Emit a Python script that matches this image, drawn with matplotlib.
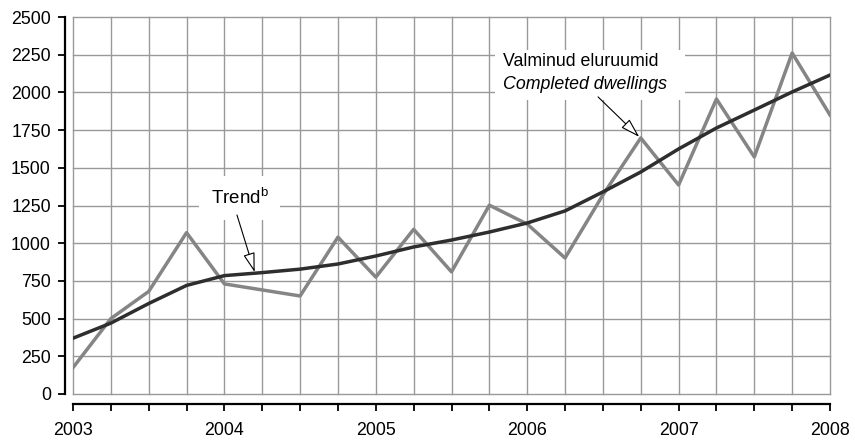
import matplotlib
matplotlib.use("Agg")
import matplotlib.pyplot as plt
import matplotlib.patches as mpatches
import numpy as np

plt.rcParams['font.family'] = ['Liberation Sans', 'DejaVu Sans']
plt.rcParams['mathtext.fontset'] = 'custom'
plt.rcParams['mathtext.rm'] = 'Liberation Sans'

# quarterly data, 2003 Q1 .. 2008 Q1
quarters = 2003 + np.arange(21) * 0.25
completed = [175, 500, 680, 1070, 730, 690, 650, 1040, 775, 1092, 810, 1252,
             1127, 902, 1320, 1698, 1386, 1956, 1572, 2261, 1850]
trend = [370, 470, 600, 720, 785, 805, 828, 862, 915, 975, 1021, 1074,
         1134, 1214, 1340, 1472, 1625, 1764, 1883, 2003, 2115]
years = [2003, 2004, 2005, 2006, 2007, 2008]
yticks = np.arange(0, 2501, 250)

fig = plt.figure(figsize=(8.55, 4.42), dpi=100)
ax = fig.add_axes([73/855, 1 - 394/442, 757/855, 377/442])

grid_c = '#999999'
ax.plot(quarters, completed, color='#858585', lw=2.5, zorder=4)
ax.plot(quarters, trend, color='#2e2e2e', lw=2.5, zorder=5)

ax.set_xlim(2003, 2008)
ax.set_ylim(0, 2500)
ax.set_yticks(yticks)
ax.set_xticks(years)
ax.set_xticklabels([str(y) for y in years])
ax.set_xticks(quarters, minor=True)

for y in yticks:
    ax.axhline(y, color=grid_c, lw=1.0, zorder=1, clip_on=False)
for q in quarters:
    ax.axvline(q, color=grid_c, lw=1.0, zorder=1, clip_on=False)

for s in ['top', 'right']:
    ax.spines[s].set_visible(False)
ax.spines['left'].set_position(('outward', 6))
ax.spines['bottom'].set_position(('outward', 7.5))
ax.spines['left'].set_linewidth(1.6)
ax.spines['bottom'].set_linewidth(1.6)

ax.tick_params(axis='y', which='major', length=5, width=1.3, pad=5, labelsize=12.8)
ax.tick_params(axis='x', which='both', direction='out', length=5, width=1.3)
ax.tick_params(axis='x', which='major', pad=8, labelsize=12.8)

# label boxes and arrows
ax.text(2004.10, 1300, 'Trend$^{\\mathrm{b}}$', fontsize=13.5, ha='center', va='center',
        zorder=6, bbox=dict(boxstyle='square,pad=0.6', fc='white', ec='none'))
ax.annotate('', xy=(2004.2, 808), xytext=(2004.083, 1187),
            arrowprops=dict(arrowstyle='-|>,head_length=0.6,head_width=0.18',
                            fc='white', ec='black', lw=0.8, mutation_scale=20,
                            shrinkA=0, shrinkB=0), zorder=7)

ax.add_patch(mpatches.Rectangle((2005.787, 1950), 1.255, 331, fc='white', ec='none',
                                zorder=6, clip_on=False))
ax.text(2005.84, 2208, 'Valminud eluruumid', fontsize=12.8, ha='left', va='center', zorder=7)
ax.text(2005.84, 2050, 'Completed dwellings', fontsize=12.8, style='italic',
        ha='left', va='center', zorder=7)
ax.annotate('', xy=(2006.74, 1705), xytext=(2006.468, 1970),
            arrowprops=dict(arrowstyle='-|>,head_length=0.6,head_width=0.18',
                            fc='white', ec='black', lw=0.8, mutation_scale=20,
                            shrinkA=0, shrinkB=0), zorder=7)

fig.savefig('out.png', dpi=100)
